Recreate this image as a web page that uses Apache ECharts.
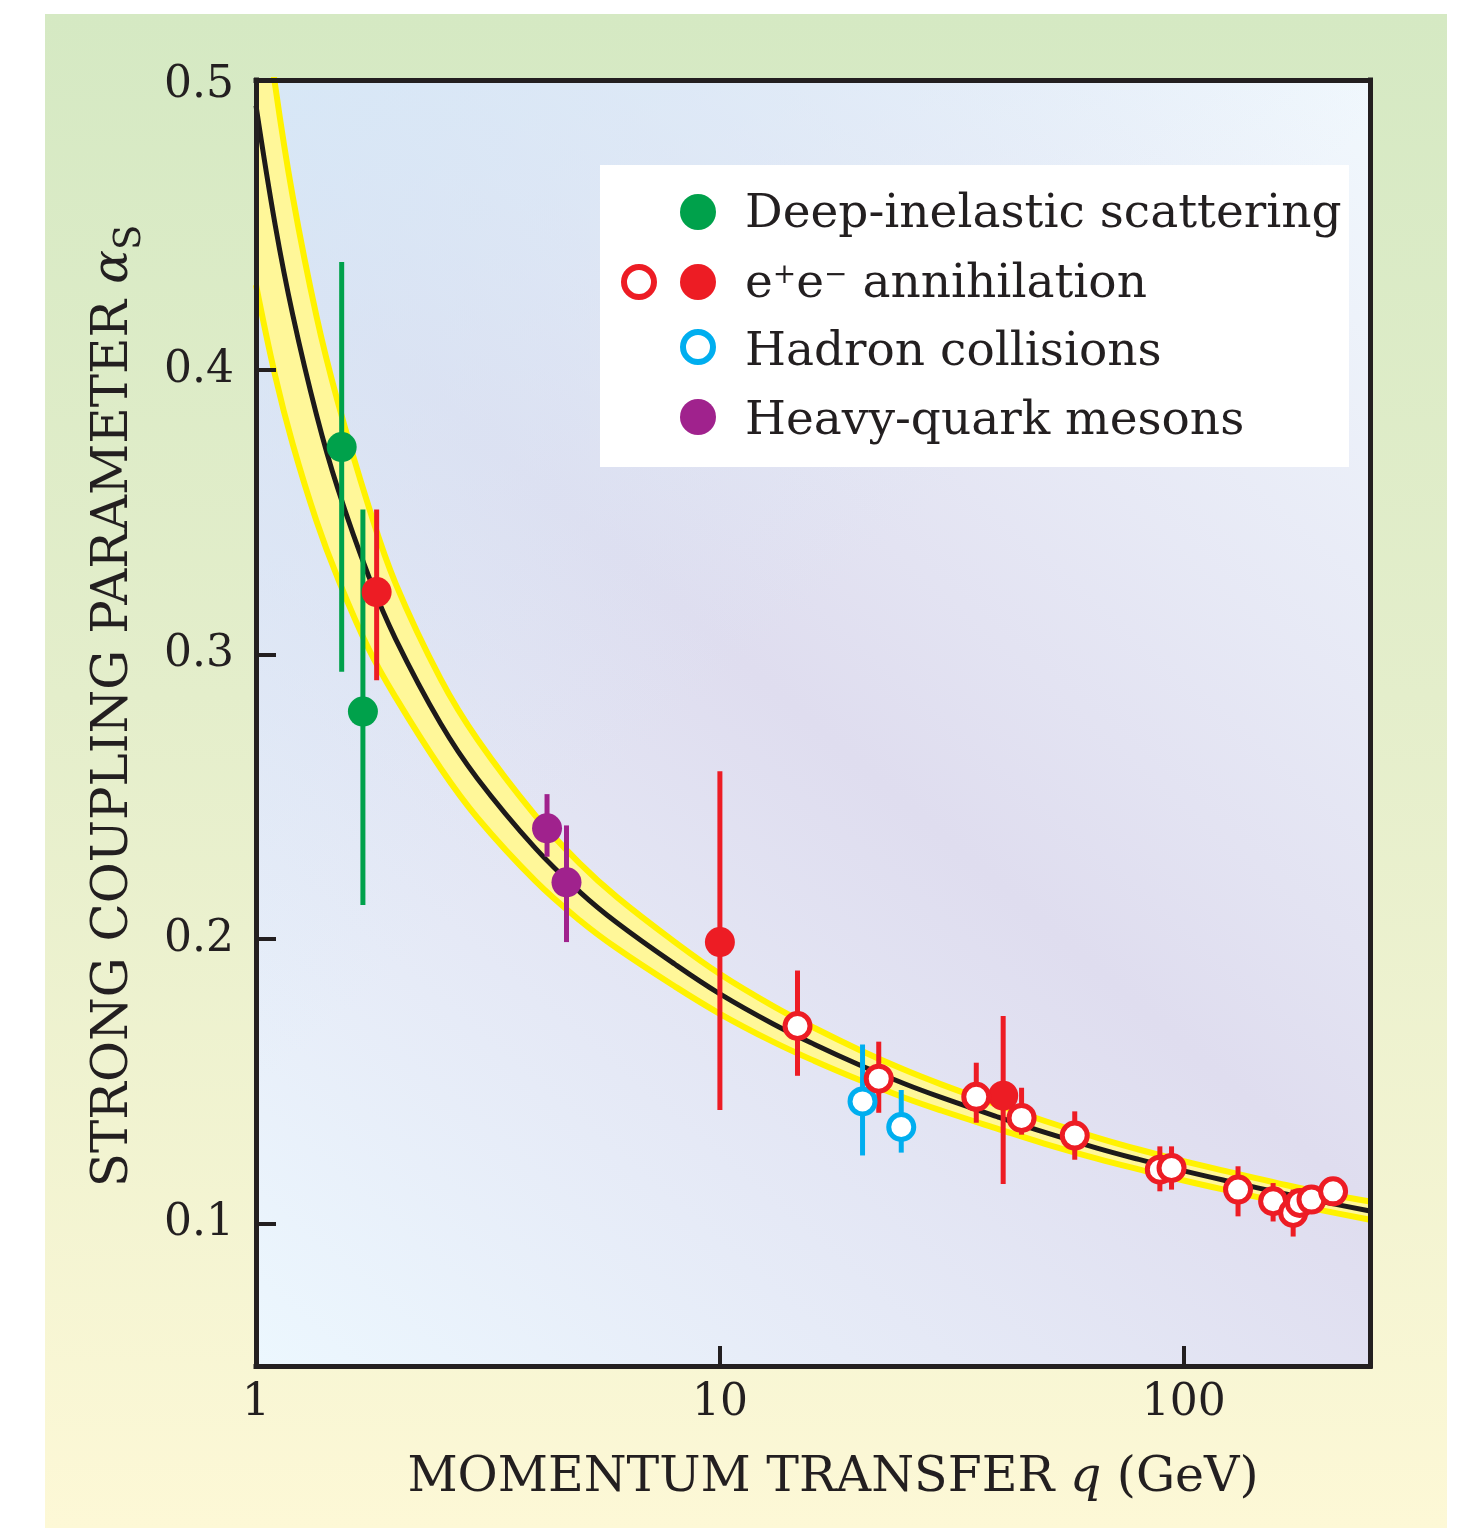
<!DOCTYPE html>
<html>
<head>
<meta charset="utf-8">
<script src="https://cdn.jsdelivr.net/npm/echarts@6/dist/echarts.min.js"></script>
<style>
html,body{margin:0;padding:0;background:#ffffff;}
#chart{width:1460px;height:1528px;}
</style>
</head>
<body>
<div id="chart"></div>
<script>
// ---------------- data ----------------
const xTickValues = [1, 10, 100];
const yTickValues = [0.1, 0.2, 0.3, 0.4, 0.5];

// QCD running coupling curve and its uncertainty band
const curveQ     = [1, 1.1, 1.2, 1.35, 1.5, 1.75, 2, 2.5, 3, 4, 5, 6, 8, 10, 13, 16, 20, 25, 30, 40, 50, 65, 80, 100, 130, 160, 200, 252];
const curveAlpha = [0.493, 0.451, 0.4195, 0.3844, 0.3585, 0.3275, 0.3055, 0.2758, 0.2565, 0.232, 0.2165, 0.2058, 0.1912, 0.1808, 0.1703, 0.1630, 0.1558, 0.1492, 0.1444, 0.1374, 0.1322, 0.1266, 0.1226, 0.1186, 0.1143, 0.1110, 0.1077, 0.1045];
const bandUpper  = [0.552, 0.500, 0.461, 0.419, 0.389, 0.352, 0.325, 0.2915, 0.2703, 0.2435, 0.2265, 0.2148, 0.1990, 0.1878, 0.1766, 0.1688, 0.1611, 0.1541, 0.1490, 0.1416, 0.1362, 0.1303, 0.1261, 0.1220, 0.1176, 0.1142, 0.1108, 0.1078];
const bandLower  = [0.430, 0.398, 0.374, 0.347, 0.327, 0.302, 0.285, 0.2601, 0.2427, 0.2205, 0.2065, 0.1968, 0.1834, 0.1738, 0.1640, 0.1572, 0.1505, 0.1443, 0.1398, 0.1332, 0.1282, 0.1229, 0.1191, 0.1152, 0.1110, 0.1078, 0.1046, 0.1014];

// measurements: [q (GeV), alpha_s, error low, error high]
const deepInelastic = [
  [1.53, 0.373, 0.294, 0.438],
  [1.70, 0.280, 0.212, 0.351]
];
const eeFilled = [
  [1.82, 0.322, 0.291, 0.351],
  [10.0, 0.199, 0.140, 0.259],
  [40.8, 0.145, 0.114, 0.173]
];
const eeOpen = [
  [14.7, 0.1695, 0.152, 0.189],
  [22.0, 0.151, 0.139, 0.164],
  [35.7, 0.1446, 0.1355, 0.1566],
  [44.7, 0.1372, 0.1313, 0.1478],
  [58.2, 0.131, 0.1225, 0.1395],
  [88.8, 0.119, 0.1114, 0.1272],
  [94.1, 0.1196, 0.112, 0.1272],
  [130.9, 0.112, 0.1026, 0.1202],
  [155.8, 0.1079, 0.1008, 0.1143],
  [172.1, 0.1038, 0.0955, 0.112],
  [177.9, 0.1073, 0.104, 0.111],
  [188.5, 0.1085, 0.105, 0.112],
  [209.8, 0.1114, 0.108, 0.115]
];
const hadronCollisions = [
  [20.3, 0.143, 0.124, 0.163],
  [24.6, 0.134, 0.125, 0.147]
];
const heavyQuarkMesons = [
  [4.24, 0.239, 0.229, 0.251],
  [4.67, 0.220, 0.199, 0.240]
];

const legendNames = ['Deep-inelastic scattering', 'e+e\u2212 annihilation', 'Hadron collisions', 'Heavy-quark mesons'];

// ---------------- styling ----------------
const FONT = '"DejaVu Serif", "Liberation Serif", serif';
const INK = '#231f20';
const GREEN = '#00a14b', RED = '#ed1c24', CYAN = '#00aeef', PURPLE = '#a0228d';
const YELLOW_LINE = '#fff200', YELLOW_FILL = '#fff799', CURVE = '#1d1a1a';
const SMOOTH = 0.4;

const pairs = (xs, ys) => xs.map((x, i) => [x, ys[i]]);

function errorBars(name, pts, color) {
  return {
    type: 'custom', name: name + ' errors', silent: true, z: 5, clip: true,
    data: pts.map(p => [p[0], p[2], p[3]]),
    encode: { x: 0, y: [1, 2] },
    renderItem(params, api) {
      const x = api.value(0);
      const a = api.coord([x, api.value(1)]);
      const b = api.coord([x, api.value(2)]);
      return { type: 'line', shape: { x1: a[0], y1: a[1], x2: b[0], y2: b[1] },
               style: { stroke: color, lineWidth: 5 } };
    }
  };
}
function filledPoints(name, pts, color, z) {
  return { type: 'scatter', name, silent: true, z: z || 6, symbol: 'circle', symbolSize: 30,
           data: pts.map(p => [p[0], p[1]]), itemStyle: { color, opacity: 1 } };
}
function openPoints(name, pts, color, z) {
  return { type: 'scatter', name, silent: true, z: z || 7, symbol: 'circle', symbolSize: 25,
           data: pts.map(p => [p[0], p[1]]),
           itemStyle: { color: '#ffffff', borderColor: color, borderWidth: 5, opacity: 1 } };
}

// band fill: one polygon between the upper and lower band edges
const bandFillSeries = {
  type: 'custom', name: 'band fill', silent: true, z: 2,
  data: curveQ.map((q, i) => [q, bandLower[i], bandUpper[i]]),
  encode: { x: 0, y: [1, 2] },
  renderItem(params, api) {
    if (params.dataIndex !== 0) return null;
    const upper = curveQ.map((q, i) => api.coord([q, bandUpper[i]]));
    const lower = curveQ.map((q, i) => api.coord([q, bandLower[i]])).reverse();
    const cs = params.coordSys;
    return {
      type: 'group',
      clipPath: { type: 'rect', shape: { x: cs.x, y: cs.y, width: cs.width, height: cs.height } },
      children: [{
        type: 'polygon',
        shape: { points: upper.concat(lower), smooth: SMOOTH },
        style: { fill: YELLOW_FILL, stroke: null }
      }]
    };
  }
};

const textBase = { fontFamily: FONT, fill: INK, color: INK };
function legendText(y, text, rich) {
  return { type: 'text', x: 745, y: y, z: 52, silent: true,
           style: Object.assign({ text, fontSize: 47, align: 'left', verticalAlign: 'middle',
                                  textAlign: 'left', textVerticalAlign: 'middle', rich: rich || undefined }, textBase) };
}

const chart = echarts.init(document.getElementById('chart'), null, { renderer: 'canvas' });

const option = {
  animation: false,
  backgroundColor: '#ffffff',
  grid: { left: 256, right: 90, top: 80, bottom: 162, containLabel: false, outerBoundsMode: 'none' },
  xAxis: [
    {
      type: 'log', logBase: 10, min: 1, max: 252, position: 'bottom', z: 10,
      name: '{n|MOMENTUM TRANSFER }{i|q}{n| (GeV)}',
      nameLocation: 'middle', nameGap: 88,
      nameTextStyle: {
        color: INK, fontFamily: FONT, fontSize: 49, padding: [0, 0, 0, 40],
        rich: {
          n: { color: INK, fontFamily: FONT, fontSize: 49 },
          i: { color: INK, fontFamily: FONT, fontSize: 49, fontStyle: 'italic' }
        }
      },
      axisLine: { show: true, lineStyle: { color: INK, width: 5, cap: 'square' } },
      axisTick: { show: true, inside: true, length: 20, lineStyle: { color: INK, width: 4 } },
      minorTick: { show: false },
      axisLabel: { show: true, margin: 16, color: INK, fontFamily: FONT, fontSize: 44,
                   showMaxLabel: false, formatter: v => (xTickValues.indexOf(Math.round(v)) >= 0 ? String(Math.round(v)) : '') },
      splitLine: { show: false }
    },
    {
      type: 'log', logBase: 10, min: 1, max: 252, position: 'top', z: 10,
      axisLine: { show: true, lineStyle: { color: INK, width: 5, cap: 'square' } },
      axisTick: { show: false }, axisLabel: { show: false }, splitLine: { show: false }
    }
  ],
  yAxis: [
    {
      type: 'value', min: 0.05, max: 0.502, position: 'left', z: 10,
      name: '{n|STRONG COUPLING PARAMETER }{a|\u03b1}{s|S}',
      nameLocation: 'middle', nameRotate: 90, nameGap: 107,
      nameTextStyle: {
        color: INK, fontFamily: FONT, fontSize: 50, padding: [0, 0, 0, 34],
        rich: {
          n: { color: INK, fontFamily: FONT, fontSize: 50, lineHeight: 60, verticalAlign: 'top' },
          a: { color: INK, fontFamily: FONT, fontSize: 50, fontStyle: 'italic', lineHeight: 60, verticalAlign: 'top' },
          s: { color: INK, fontFamily: FONT, fontSize: 37, lineHeight: 40, verticalAlign: 'bottom' }
        }
      },
      axisLine: { show: true, lineStyle: { color: INK, width: 5, cap: 'square' } },
      axisTick: { show: true, inside: true, length: 20, lineStyle: { color: INK, width: 4 },
                  customValues: [0.1, 0.2, 0.3, 0.4] },
      axisLabel: { show: true, margin: 22, color: INK, fontFamily: FONT, fontSize: 44,
                   customValues: yTickValues, formatter: v => v.toFixed(1) },
      splitLine: { show: false }
    },
    {
      type: 'value', min: 0.05, max: 0.502, position: 'right', z: 10,
      axisLine: { show: true, lineStyle: { color: INK, width: 5, cap: 'square' } },
      axisTick: { show: false }, axisLabel: { show: false }, splitLine: { show: false }
    }
  ],
  series: [
    bandFillSeries,
    { type: 'line', name: 'band upper', silent: true, z: 3, symbol: 'none', smooth: SMOOTH,
      data: pairs(curveQ, bandUpper), lineStyle: { color: YELLOW_LINE, width: 6 } },
    { type: 'line', name: 'band lower', silent: true, z: 3, symbol: 'none', smooth: SMOOTH,
      data: pairs(curveQ, bandLower), lineStyle: { color: YELLOW_LINE, width: 6 } },
    { type: 'line', name: 'QCD prediction', silent: true, z: 4, symbol: 'none', smooth: SMOOTH,
      data: pairs(curveQ, curveAlpha), lineStyle: { color: CURVE, width: 5 } },
    errorBars(legendNames[0], deepInelastic, GREEN),
    errorBars(legendNames[1], eeFilled, RED),
    errorBars(legendNames[1] + ' open', eeOpen, RED),
    errorBars(legendNames[2], hadronCollisions, CYAN),
    errorBars(legendNames[3], heavyQuarkMesons, PURPLE),
    filledPoints(legendNames[0], deepInelastic, GREEN, 6),
    filledPoints(legendNames[3], heavyQuarkMesons, PURPLE, 6),
    filledPoints(legendNames[1], eeFilled, RED, 6),
    openPoints(legendNames[2], hadronCollisions, CYAN, 7),
    openPoints(legendNames[1] + ' (open)', eeOpen, RED, 8)
  ],
  graphic: [
    { type: 'rect', z: -10, silent: true, shape: { x: 45, y: 14, width: 1402, height: 1514 },
      style: { fill: { type: 'linear', x: 0, y: 0, x2: 0, y2: 1, colorStops: [
        { offset: 0, color: '#d5e9c3' }, { offset: 0.45, color: '#e4eecb' }, { offset: 1, color: '#fdf8d6' } ] } } },
    { type: 'rect', z: -9, silent: true, shape: { x: 256, y: 80, width: 1114, height: 1286 },
      style: { fill: { type: 'linear', x: 1, y: 0, x2: 0, y2: 1, colorStops: [
        { offset: 0, color: '#f1f8fd' }, { offset: 0.5, color: '#dfddef' }, { offset: 1, color: '#ecf7fe' } ] } } },
    { type: 'rect', z: -8, silent: true, shape: { x: 256, y: 80, width: 1114, height: 1286 },
      style: { fill: { type: 'linear', x: 0, y: 0, x2: 1, y2: 1, colorStops: [
        { offset: 0, color: 'rgba(214,232,247,0.9)' }, { offset: 0.45, color: 'rgba(214,232,247,0)' },
        { offset: 1, color: 'rgba(214,232,247,0)' } ] } } },
    // legend
    { type: 'rect', z: 50, silent: true, shape: { x: 600, y: 165, width: 749, height: 302 }, style: { fill: '#ffffff' } },
    { type: 'circle', z: 51, silent: true, shape: { cx: 698, cy: 212, r: 18 }, style: { fill: GREEN } },
    { type: 'circle', z: 51, silent: true, shape: { cx: 639, cy: 282, r: 15 }, style: { fill: '#ffffff', stroke: RED, lineWidth: 6 } },
    { type: 'circle', z: 51, silent: true, shape: { cx: 698, cy: 282, r: 18 }, style: { fill: RED } },
    { type: 'circle', z: 51, silent: true, shape: { cx: 698, cy: 347, r: 15 }, style: { fill: '#ffffff', stroke: CYAN, lineWidth: 6 } },
    { type: 'circle', z: 51, silent: true, shape: { cx: 698, cy: 417, r: 18 }, style: { fill: PURPLE } },
    legendText(215, legendNames[0]),
    legendText(285, '{t|e}{sup|+}{t|e}{sup|\u2212}{t| annihilation}', {
      t: { fontFamily: FONT, fontSize: 47, fill: INK, color: INK, lineHeight: 47, verticalAlign: 'bottom' },
      sup: { fontFamily: FONT, fontSize: 28, fill: INK, color: INK, lineHeight: 28, verticalAlign: 'top' }
    }),
    legendText(353, legendNames[2]),
    legendText(422, legendNames[3])
  ]
};

chart.setOption(option);
</script>
</body>
</html>
